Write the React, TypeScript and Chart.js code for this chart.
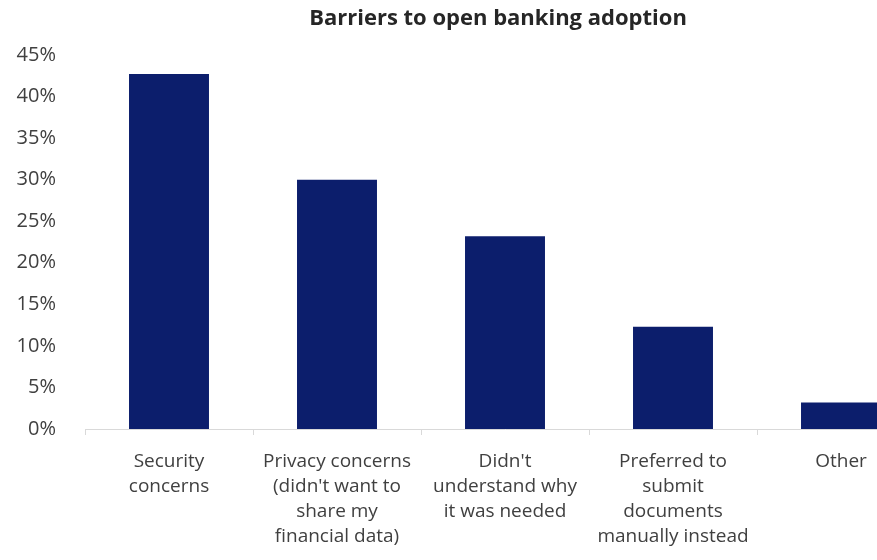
import React, { useEffect, useRef } from "react";
import { Chart, registerables } from "chart.js";

Chart.register(...registerables);

const categories: string[][] = [
  ["Security", "concerns"],
  ["Privacy concerns", "(didn't want to", "share my", "financial data)"],
  ["Didn't", "understand why", "it was needed"],
  ["Preferred to", "submit", "documents", "manually instead"],
  ["Other"],
];
const values: number[] = [0.427, 0.300, 0.232, 0.123, 0.032];
const yTicks: number[] = [0, 0.05, 0.1, 0.15, 0.2, 0.25, 0.3, 0.35, 0.4, 0.45];
const title = "Barriers to open banking adoption";

const titlePlugin = {
  id: "customTitle",
  afterDraw(chart: any) {
    const ctx = chart.ctx;
    ctx.save();
    ctx.font = "bold 22px 'Open Sans'";
    ctx.fillStyle = "#262626";
    ctx.textAlign = "center";
    ctx.textBaseline = "middle";
    ctx.fillText(title, 498, 19);
    ctx.restore();
  },
};

export default function App() {
  const ref = useRef<HTMLCanvasElement | null>(null);
  useEffect(() => {
    if (!ref.current) return;
    const chart = new Chart(ref.current, {
      type: "bar",
      data: {
        labels: categories,
        datasets: [
          {
            data: values,
            backgroundColor: "#0c1e6c",
            barPercentage: 0.476,
            categoryPercentage: 1,
          },
        ],
      },
      plugins: [titlePlugin],
      options: {
        animation: false,
        responsive: false,
        maintainAspectRatio: false,
        layout: { padding: { left: 0, right: 71, top: 55, bottom: 0 } },
        plugins: {
          legend: { display: false },
          tooltip: { enabled: false },
          title: { display: false },
        },
        scales: {
          x: {
            grid: {
              display: true,
              drawOnChartArea: false,
              drawTicks: true,
              tickLength: 6,
              color: "#d9d9d9",
              offset: true,
            },
            border: { display: true, color: "#d9d9d9" },
            ticks: {
              color: "#404040",
              font: { family: "'Open Sans'", size: 19, lineHeight: 1.32 },
              padding: 14,
              maxRotation: 0,
              minRotation: 0,
              autoSkip: false,
            },
            afterFit: (scale: any) => {
              scale.height = 131;
            },
          },
          y: {
            min: 0,
            max: 0.45,
            afterBuildTicks: (scale: any) => {
              scale.ticks = yTicks.map((v) => ({ value: v }));
            },
            grid: { display: false, drawTicks: false },
            border: { display: false },
            ticks: {
              color: "#404040",
              font: { family: "'Open Sans'", size: 20 },
              padding: 29,
              callback: (v: any) => Math.round(Number(v) * 100) + "%",
            },
            afterFit: (scale: any) => {
              scale.width = 85;
            },
          },
        },
      },
    });
    return () => chart.destroy();
  }, []);
  return (
    <div
      style={{
        position: "fixed",
        left: 0,
        top: 0,
        width: 877,
        height: 560,
        overflow: "hidden",
        background: "#ffffff",
      }}
    >
      <canvas ref={ref} width={996} height={560} style={{ display: "block" }} />
    </div>
  );
}
